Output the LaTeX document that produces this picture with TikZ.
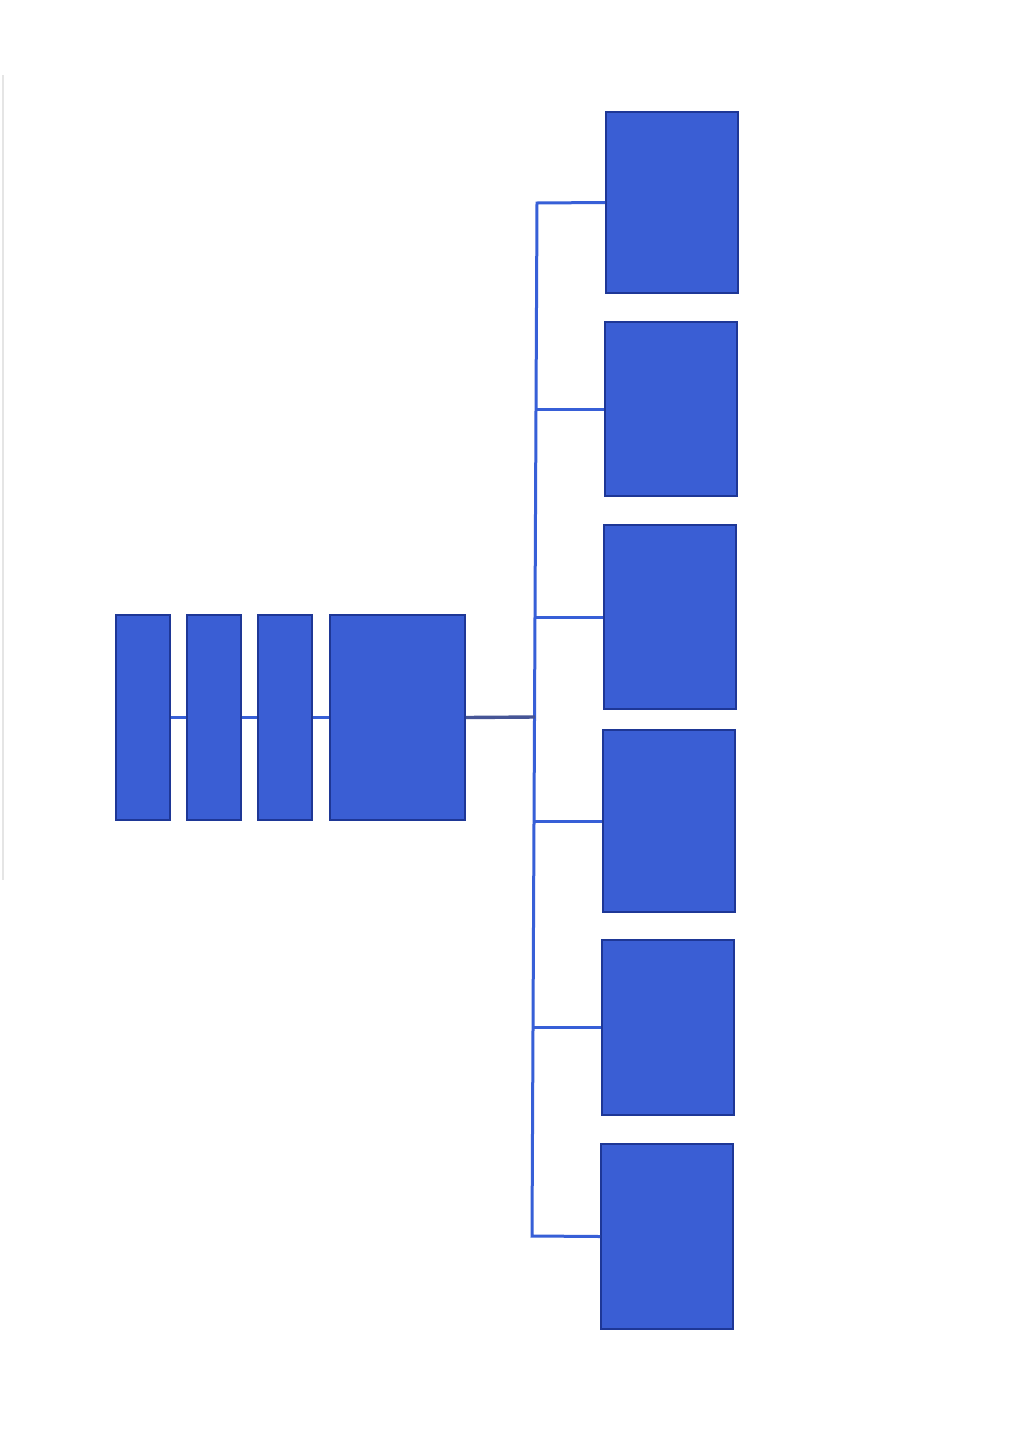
\documentclass[tikz,border=0pt]{standalone}
\begin{document}
\begin{tikzpicture}[x=1pt,y=-1pt,
  box/.style={draw=boxedge,fill=boxfill,line width=2pt,inner sep=0pt},
  link/.style={draw=linkblue,line width=3pt},
  mainlink/.style={draw=linkdark,line width=3.4pt}]
\definecolor{boxfill}{RGB}{58,94,212}
\definecolor{boxedge}{RGB}{30,55,150}
\definecolor{linkblue}{RGB}{55,95,215}
\definecolor{linkdark}{RGB}{70,85,150}
\useasboundingbox[fill=white] (0,0) rectangle (1024,1448);
\draw[black!10,line width=1.2pt] (3,75) -- (3,880);
% left chain
\node[box,minimum width=54pt,minimum height=205pt] (b1) at (143,717.5) {};
\node[box,minimum width=54pt,minimum height=205pt] (b2) at (214,717.5) {};
\node[box,minimum width=54pt,minimum height=205pt] (b3) at (285,717.5) {};
\node[box,minimum width=135pt,minimum height=205pt] (b4) at (397.5,717.5) {};
% right column
\node[box,minimum width=132pt,minimum height=181pt] (r1) at (672,202.5) {};
\node[box,minimum width=132pt,minimum height=174pt] (r2) at (671,409) {};
\node[box,minimum width=132pt,minimum height=184pt] (r3) at (670,617) {};
\node[box,minimum width=132pt,minimum height=182pt] (r4) at (669,821) {};
\node[box,minimum width=132pt,minimum height=175pt] (r5) at (668,1027.5) {};
\node[box,minimum width=132pt,minimum height=185pt] (r6) at (667,1236.5) {};
% trunk
\coordinate (tt) at (537,203);
\coordinate (tb) at (532,1236);
\coordinate (hub) at (535,717);
\draw[link] (b1.east) -- (b2.west);
\draw[link] (b2.east) -- (b3.west);
\draw[link] (b3.east) -- (b4.west);
\draw[link,line join=miter] (r1.west) -- (tt) -- (tb) -- (r6.west);
\draw[link] (536,409) -- (r2.west);
\draw[link] (535.5,617) -- (r3.west);
\draw[link] (535,821) -- (r4.west);
\draw[link] (534,1027.5) -- (r5.west);
\draw[mainlink] (b4.east) -- (hub);
\end{tikzpicture}
\end{document}
